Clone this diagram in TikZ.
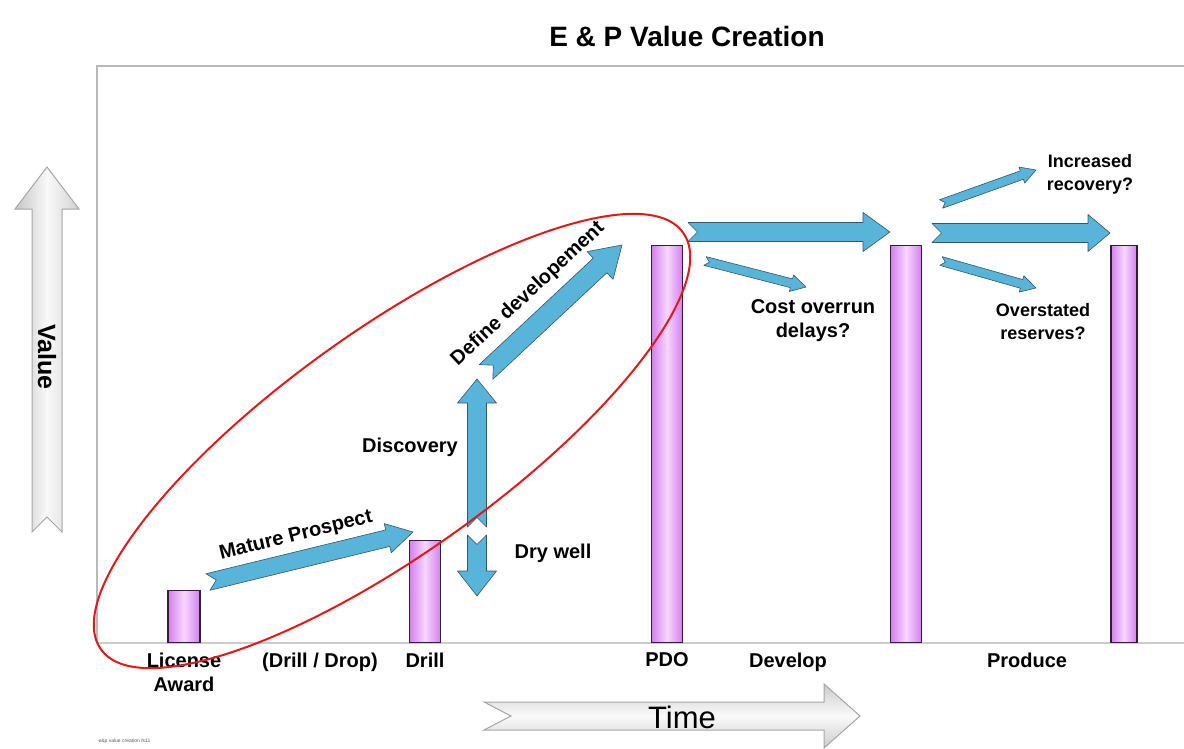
\documentclass[tikz,border=0pt]{standalone}
\usepackage{fontspec}
\setmainfont{Liberation Sans}
\usetikzlibrary{calc}

\definecolor{barviolet}{RGB}{210,128,238}
\definecolor{barlight}{RGB}{248,214,255}
\definecolor{barline}{RGB}{50,30,55}
\definecolor{flowblue}{RGB}{88,180,216}
\definecolor{flowline}{RGB}{55,85,100}
\definecolor{ringred}{RGB}{225,25,25}

\tikzset{
	bar/.style={draw=barline,line width=1.5pt,left color=barviolet,right color=barviolet,middle color=barlight,anchor=south,inner sep=0pt,minimum width=31pt},
	blockarrow/.style={draw=flowline,line width=0.6pt,fill=flowblue,line join=round},
	greyarrow/.style={draw=gray!70,line width=1pt},
	lbl/.style={font=\fontsize{20}{24}\selectfont\bfseries,align=center},
	small lbl/.style={font=\fontsize{18}{23}\selectfont\bfseries,align=center},
}

% block arrow with notched tail: tail, tip, half shaft, half head, head length
\newcommand{\fatarrow}[5]{%
	\path ($(#2)!#5!(#1)$) coordinate (fa-h);
	\draw[blockarrow] ($(#1)!#3!90:(#2)$) -- ($(fa-h)!#3!90:(#2)$) -- ($(fa-h)!#4!90:(#2)$) -- (#2)
		-- ($(fa-h)!#4!-90:(#2)$) -- ($(fa-h)!#3!-90:(#2)$) -- ($(#1)!#3!-90:(#2)$) -- ($(#1)!#3!(#2)$) -- cycle;
}

\begin{document}
\begin{tikzpicture}[x=1pt,y=-1pt]
	\useasboundingbox (0,0) rectangle (1184,749);

	\node[font=\fontsize{28}{30}\selectfont\bfseries] (title) at (687,36) {E \& P Value Creation};
	\draw[gray!55,line width=1.8pt] (1195,66) -- (97,66) -- (97,643);
	\draw[gray!40,line width=1.5pt] (97,643) -- (1195,643);

	% axes
	\draw[greyarrow,left color=gray!45,right color=gray!35,middle color=gray!5] (47,167) -- (79,209) -- (62,209) -- (62,532) -- (47,517) -- (32,532) -- (32,209) -- (15,209) -- cycle;
	\node[font=\fontsize{25}{27}\selectfont\bfseries,rotate=-90] (value) at (47,357) {Value};
	\draw[greyarrow,top color=gray!40,bottom color=gray!40,middle color=gray!4] (484,702) -- (824,702) -- (824,684) -- (860,716) -- (824,748) -- (824,730) -- (484,730) -- (511,716) -- cycle;
	\node[font=\fontsize{31}{34}\selectfont] (time) at (682,717) {Time};

	% bars
	\node[bar,minimum width=32pt,minimum height=52pt] (license) at (184,643) {};
	\node[bar,minimum height=102pt] (drill) at (425,643) {};
	\node[bar,minimum height=397pt] (pdo) at (667,643) {};
	\node[bar,minimum height=397pt] (develop) at (906,643) {};
	\node[bar,minimum width=26pt,minimum height=397pt] (produce) at (1124,643) {};

	\node[lbl] at (license.south) [below=6pt] {License\\Award};
	\node[lbl] at (drill.south) [below=6pt] {Drill};
	\node[lbl] at (pdo.south) [below=6pt] {PDO};
	\node[lbl] at (320,643) [below=6pt] {(Drill / Drop)};
	\node[lbl] at (788,643) [below=6pt] {Develop};
	\node[lbl] at (1027,643) [below=6pt] {Produce};

	% flows
	\coordinate (mp-tail) at (208,582);
	\coordinate (mp-tip) at (413,532);
	\fatarrow{mp-tail}{mp-tip}{8.5pt}{15pt}{26pt}
	\node[lbl,rotate=13.7] at (296,536) {Mature Prospect};

	\coordinate (disc-tail) at (477,527);
	\coordinate (disc-tip) at (477,379);
	\fatarrow{disc-tail}{disc-tip}{9.5pt}{19.5pt}{24pt}
	\node[lbl] at (410,447) {Discovery};

	\coordinate (dry-tail) at (477,535);
	\coordinate (dry-tip) at (477,596);
	\fatarrow{dry-tail}{dry-tip}{9.5pt}{19.5pt}{25pt}
	\node[lbl] at (553,553) {Dry well};

	\coordinate (def-tail) at (486,372);
	\coordinate (def-tip) at (622,245);
	\fatarrow{def-tail}{def-tip}{10pt}{19pt}{30pt}
	\node[lbl,rotate=43] at (528,294) {Define developement};

	\coordinate (pdo-tail) at (688,232);
	\coordinate (pdo-tip) at (890,232);
	\fatarrow{pdo-tail}{pdo-tip}{9.5pt}{19.5pt}{27pt}

	\coordinate (cost-tail) at (705,261);
	\coordinate (cost-tip) at (806,287);
	\fatarrow{cost-tail}{cost-tip}{4.5pt}{8.5pt}{15pt}
	\node[lbl] at (813,321) {Cost overrun\\delays?};

	\coordinate (prod-tail) at (932,233);
	\coordinate (prod-tip) at (1110,233);
	\fatarrow{prod-tail}{prod-tip}{9.5pt}{18.5pt}{22pt}

	\coordinate (up-tail) at (941,204);
	\coordinate (up-tip) at (1036,170);
	\fatarrow{up-tail}{up-tip}{4.5pt}{8.5pt}{15pt}
	\node[small lbl] at (1090,174) {Increased\\recovery?};

	\coordinate (down-tail) at (941,261);
	\coordinate (down-tip) at (1036,288);
	\fatarrow{down-tail}{down-tip}{4.5pt}{8.5pt}{15pt}
	\node[small lbl] at (1043,322) {Overstated\\reserves?};

	% ring round the exploration phase
	\draw[ringred,line width=2pt,rotate around={35.6:(392,441)}] (392,441) ellipse [x radius=358pt,y radius=111pt];

	\node[font=\fontsize{5}{6}\selectfont,anchor=west,text=gray!70!black] (stamp) at (95,741) {e\&p value creation fs11};

\end{tikzpicture}
\end{document}
